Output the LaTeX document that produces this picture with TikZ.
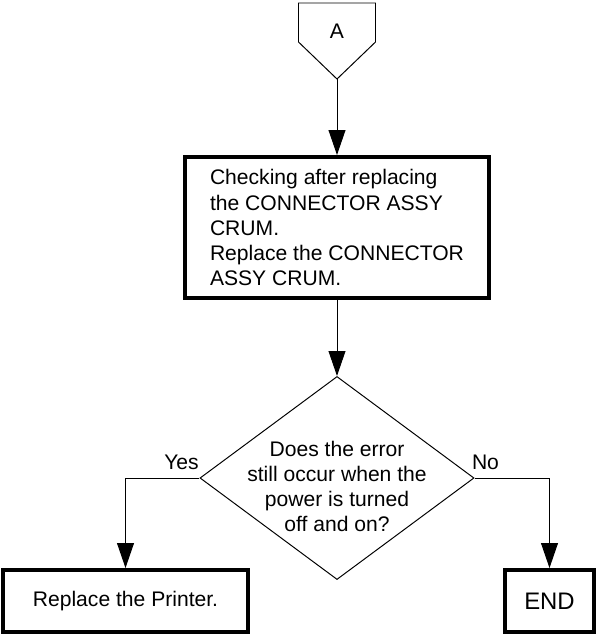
\documentclass[tikz,border=0pt]{standalone}
\usepackage{fontspec}
\setmainfont{Liberation Sans}
\usetikzlibrary{shapes.geometric,arrows.meta}

\begin{document}
\begin{tikzpicture}[
    x=0.025cm, y=-0.025cm,
    every node/.style={font=\fontsize{15}{17.8}\selectfont},
    box/.style={draw, line width=2.8pt, minimum height=1.55cm, inner sep=0pt},
    line/.style={line width=0.7pt},
    arrow/.style={-{Triangle[length=0.62cm, width=0.42cm]}, line width=0.7pt}
]
\useasboundingbox (0,0) rectangle (596,634);
% connector A
\draw[line] (298.5,3) -- (375.5,3) -- (375.5,42) -- (337,79) -- (298.5,42) -- cycle;
\node (conA) at (337,31) {A};
\coordinate (Atip) at (337,79);
\node[box, minimum width=7.6cm, minimum height=3.525cm, align=left] (chk) at (337,227.5) {Checking after replacing\\the CONNECTOR ASSY\\CRUM.\\Replace the CONNECTOR\\ASSY CRUM.};
\node[draw, diamond, line, minimum width=6.85cm, minimum height=5.075cm, inner sep=0pt] (dec) at (337,478) {};
\node[align=center, inner sep=0pt] (dectxt) at (337,486) {Does the error\\still occur when the\\power is turned\\off and on?};
\node (yes) at (181.5,462) {Yes};
\node (no) at (485.5,462) {No};
\node[box, minimum width=6.125cm] (repl) at (125.5,601) {Replace the Printer.};
\node[box, minimum width=2.225cm, font=\fontsize{17}{20}\selectfont] (fin) at (549.5,601) {END};
\draw[arrow] (Atip) -- (chk.north);
\draw[arrow] (chk.south) -- (dec.north);
\draw[arrow] (dec.west) -| (repl.north);
\draw[arrow] (dec.east) -| (fin.north);
\end{tikzpicture}
\end{document}
